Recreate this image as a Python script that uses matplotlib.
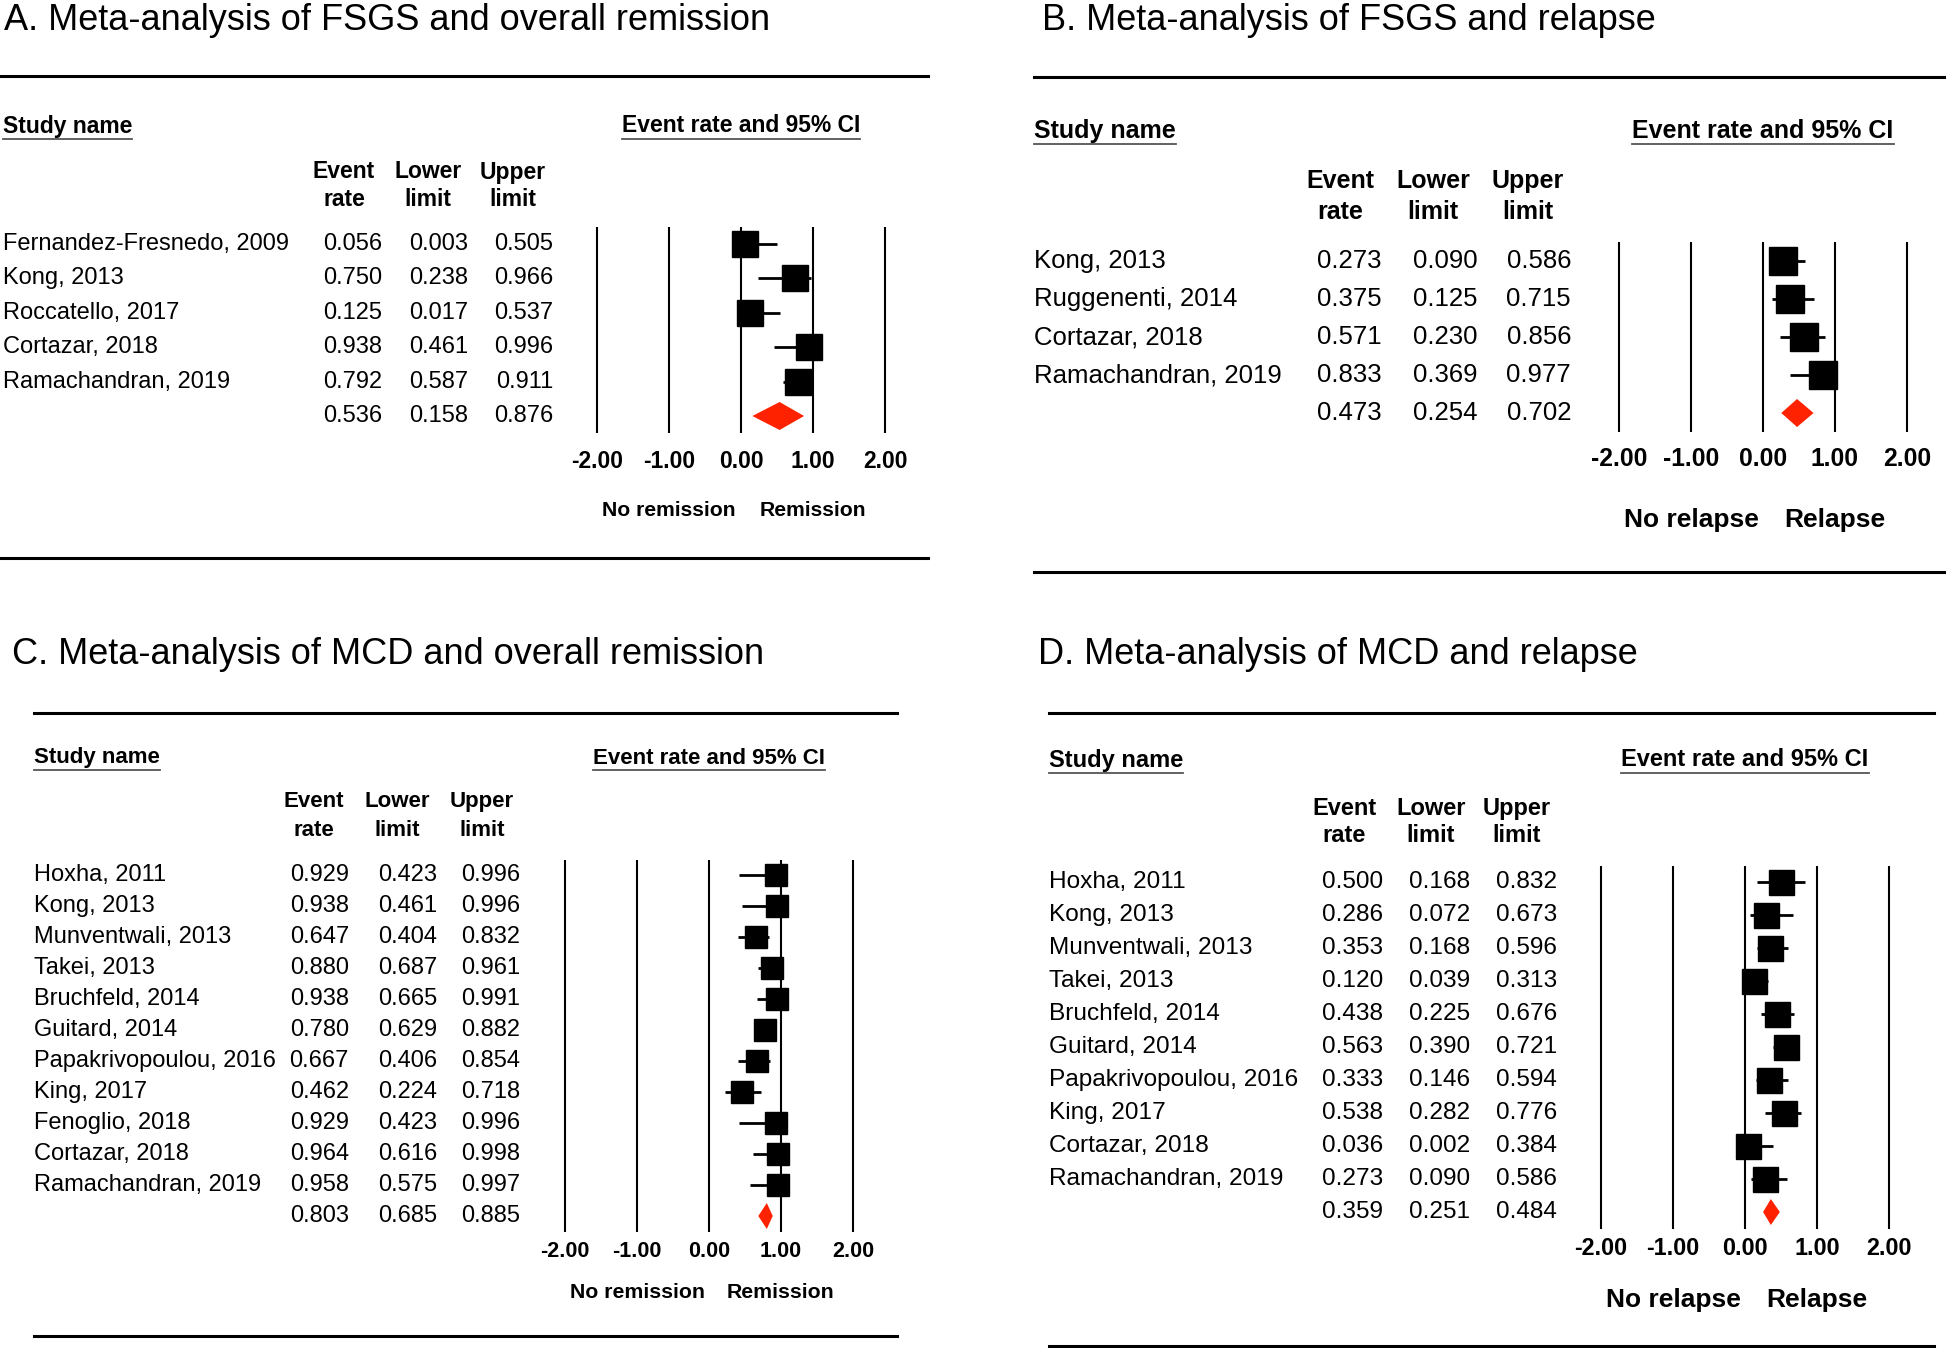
import matplotlib
matplotlib.use("Agg")
import matplotlib.pyplot as plt
import matplotlib.transforms as mtransforms
from matplotlib.patches import Polygon
from matplotlib.lines import Line2D

plt.rcParams['font.family'] = ['Liberation Sans', 'DejaVu Sans']

W, H = 1946, 1348

# --- Panel A: FSGS and overall remission ---
studies_a = ["Fernandez-Fresnedo, 2009", "Kong, 2013", "Roccatello, 2017",
             "Cortazar, 2018", "Ramachandran, 2019"]
rate_a = [0.056, 0.750, 0.125, 0.938, 0.792]
lower_a = [0.003, 0.238, 0.017, 0.461, 0.587]
upper_a = [0.505, 0.966, 0.537, 0.996, 0.911]
pooled_a = [0.536, 0.158, 0.876]

# --- Panel B: FSGS and relapse ---
studies_b = ["Kong, 2013", "Ruggenenti, 2014", "Cortazar, 2018", "Ramachandran, 2019"]
rate_b = [0.273, 0.375, 0.571, 0.833]
lower_b = [0.090, 0.125, 0.230, 0.369]
upper_b = [0.586, 0.715, 0.856, 0.977]
pooled_b = [0.473, 0.254, 0.702]

# --- Panel C: MCD and overall remission ---
studies_c = ["Hoxha, 2011", "Kong, 2013", "Munventwali, 2013", "Takei, 2013",
             "Bruchfeld, 2014", "Guitard, 2014", "Papakrivopoulou, 2016", "King, 2017",
             "Fenoglio, 2018", "Cortazar, 2018", "Ramachandran, 2019"]
rate_c = [0.929, 0.938, 0.647, 0.880, 0.938, 0.780, 0.667, 0.462, 0.929, 0.964, 0.958]
lower_c = [0.423, 0.461, 0.404, 0.687, 0.665, 0.629, 0.406, 0.224, 0.423, 0.616, 0.575]
upper_c = [0.996, 0.996, 0.832, 0.961, 0.991, 0.882, 0.854, 0.718, 0.996, 0.998, 0.997]
pooled_c = [0.803, 0.685, 0.885]

# --- Panel D: MCD and relapse ---
studies_d = ["Hoxha, 2011", "Kong, 2013", "Munventwali, 2013", "Takei, 2013",
             "Bruchfeld, 2014", "Guitard, 2014", "Papakrivopoulou, 2016", "King, 2017",
             "Cortazar, 2018", "Ramachandran, 2019"]
rate_d = [0.500, 0.286, 0.353, 0.120, 0.438, 0.563, 0.333, 0.538, 0.036, 0.273]
lower_d = [0.168, 0.072, 0.168, 0.039, 0.225, 0.390, 0.146, 0.282, 0.002, 0.090]
upper_d = [0.832, 0.673, 0.596, 0.313, 0.676, 0.721, 0.594, 0.776, 0.384, 0.586]
pooled_d = [0.359, 0.251, 0.484]

col_headers = [("Event", "rate"), ("Lower", "limit"), ("Upper", "limit")]
ticks = [-2, -1, 0, 1, 2]
tick_labels = ["-2.00", "-1.00", "0.00", "1.00", "2.00"]

RED = '#ff2200'
UNIT = 72.0  # pixels per x unit


def fx(px):
    return px / W


def fy(py):
    return 1 - py / H


underlined = []


def draw_panel(fig, title, names, rate, lower, upper, pooled, sides, lay):
    n = len(names) + 1
    sp = lay['spacing']
    top = lay['row0'] - sp / 2
    bottom = lay['row0'] + (n - 1) * sp + sp / 2
    xl, xr = -2.4, 2.4
    left = lay['x0'] + xl * UNIT
    ax = fig.add_axes([fx(left), fy(bottom), (xr - xl) * UNIT / W, (bottom - top) / H])
    ax.set_xlim(xl, xr)
    ax.set_ylim(n - 0.5, -0.5)
    ax.patch.set_alpha(0)
    for s in ax.spines.values():
        s.set_visible(False)
    ax.set_yticks([])
    ax.set_xticks(ticks)
    ax.set_xticklabels(tick_labels, fontsize=lay['tick_fs'], fontweight='bold')
    ax.tick_params(axis='x', length=0, pad=lay['tick_pad'])

    # vertical reference lines
    for t in ticks:
        ax.axvline(t, color='black', lw=1.5)

    rows = list(range(len(names)))
    ax.hlines(rows, lower, upper, color='black', lw=2.0)
    ax.plot(rate, rows, 's', color='black', ms=lay['sq'] * 72 / 100, zorder=3)

    # pooled diamond
    est, lo, hi = pooled
    yp = len(names)
    h = lay['dia'] / 2 / sp
    ax.add_patch(Polygon([(lo, yp), (est, yp - h), (hi, yp), (est, yp + h)],
                         closed=True, facecolor=RED, edgecolor='none', zorder=3))

    # text columns: x in figure, y in row units
    tr_rows = mtransforms.blended_transform_factory(fig.transFigure, ax.transData)
    tr_cols = mtransforms.blended_transform_factory(ax.transData, fig.transFigure)

    for i, nm in enumerate(names):
        fig.text(fx(lay['name_x']), i, nm, transform=tr_rows, fontsize=lay['row_fs'],
                 ha='left', va='center')
    all_vals = [list(rate) + [pooled[0]], list(lower) + [pooled[1]], list(upper) + [pooled[2]]]
    for j, vals in enumerate(all_vals):
        for i, v in enumerate(vals):
            fig.text(fx(lay['val_x'][j]), i, f"{v:.3f}", transform=tr_rows,
                     fontsize=lay['row_fs'], ha='right', va='center')

    # headers
    for j, (h1, h2) in enumerate(col_headers):
        fig.text(fx(lay['hdr_x'][j]), fy(lay['hdr_y'][0]), h1, fontsize=lay['bold_fs'],
                 fontweight='bold', ha='center', va='center')
        fig.text(fx(lay['hdr_x'][j]), fy(lay['hdr_y'][1]), h2, fontsize=lay['bold_fs'],
                 fontweight='bold', ha='center', va='center')

    t1 = fig.text(fx(lay['name_x']), fy(lay['head_y']), "Study name", fontsize=lay['bold_fs'],
                  fontweight='bold', ha='left', va='center')
    t2 = fig.text(0, fy(lay['head_y']), "Event rate and 95% CI", transform=tr_cols,
                  fontsize=lay['bold_fs'], fontweight='bold', ha='center', va='center')
    underlined.extend([t1, t2])

    # side labels under the axis
    fig.text(-1, fy(lay['side_y']), sides[0], transform=tr_cols, fontsize=lay['side_fs'],
             fontweight='bold', ha='center', va='center')
    fig.text(1, fy(lay['side_y']), sides[1], transform=tr_cols, fontsize=lay['side_fs'],
             fontweight='bold', ha='center', va='center')

    # title and rules
    fig.text(fx(lay['title_x']), fy(lay['title_y']), title, fontsize=26, ha='left', va='center')
    for ry in lay['rules_y']:
        fig.add_artist(Line2D([fx(lay['rule_x'][0]), fx(lay['rule_x'][1])], [fy(ry), fy(ry)],
                              transform=fig.transFigure, color='black', lw=2.2))
    return ax


fig = plt.figure(figsize=(W / 100, H / 100), dpi=100)

lay_a = dict(title_x=4, title_y=20, rules_y=[76, 558], rule_x=[0, 928],
             name_x=3, head_y=126, hdr_x=[344, 428, 513], hdr_y=[172, 200],
             val_x=[382, 468, 553], row0=244, spacing=34.4, x0=741,
             tick_pad=12, side_y=511, row_fs=17, bold_fs=16.5, tick_fs=16.5,
             side_fs=15.2, sq=26, dia=28)
lay_b = dict(title_x=1042, title_y=21, rules_y=[77, 572], rule_x=[1034, 1946],
             name_x=1034, head_y=131, hdr_x=[1340, 1433, 1528], hdr_y=[181, 212],
             val_x=[1382, 1478, 1571], row0=261, spacing=38.0, x0=1763,
             tick_pad=11, side_y=520, row_fs=18.5, bold_fs=18, tick_fs=17.7,
             side_fs=19, sq=28, dia=28)
lay_c = dict(title_x=12, title_y=655, rules_y=[713, 1336], rule_x=[34, 897],
             name_x=34, head_y=758, hdr_x=[314, 397, 482], hdr_y=[802, 830],
             val_x=[349, 437, 520], row0=875, spacing=31.0, x0=709,
             tick_pad=7, side_y=1293, row_fs=17, bold_fs=16, tick_fs=15.5,
             side_fs=15.3, sq=23, dia=26)
lay_d = dict(title_x=1038, title_y=655, rules_y=[713, 1346], rule_x=[1049, 1934],
             name_x=1049, head_y=760, hdr_x=[1344, 1431, 1517], hdr_y=[808, 835],
             val_x=[1383, 1470, 1557], row0=882, spacing=33.0, x0=1745,
             tick_pad=6, side_y=1300, row_fs=17.6, bold_fs=17, tick_fs=16.8,
             side_fs=19, sq=25, dia=26)

draw_panel(fig, "A. Meta-analysis of FSGS and overall remission", studies_a,
           rate_a, lower_a, upper_a, pooled_a, ("No remission", "Remission"), lay_a)
draw_panel(fig, "B. Meta-analysis of FSGS and relapse", studies_b,
           rate_b, lower_b, upper_b, pooled_b, ("No relapse", "Relapse"), lay_b)
draw_panel(fig, "C. Meta-analysis of MCD and overall remission", studies_c,
           rate_c, lower_c, upper_c, pooled_c, ("No remission", "Remission"), lay_c)
draw_panel(fig, "D. Meta-analysis of MCD and relapse", studies_d,
           rate_d, lower_d, upper_d, pooled_d, ("No relapse", "Relapse"), lay_d)

# underline the bold column headings
fig.canvas.draw()
renderer = fig.canvas.get_renderer()
for t in underlined:
    bb = t.get_window_extent(renderer)
    y = (bb.y0 - 1) / H
    fig.add_artist(Line2D([bb.x0 / W, bb.x1 / W], [y, y], transform=fig.transFigure,
                          color='#555555', lw=1.3))

fig.savefig("out.png", dpi=100)
